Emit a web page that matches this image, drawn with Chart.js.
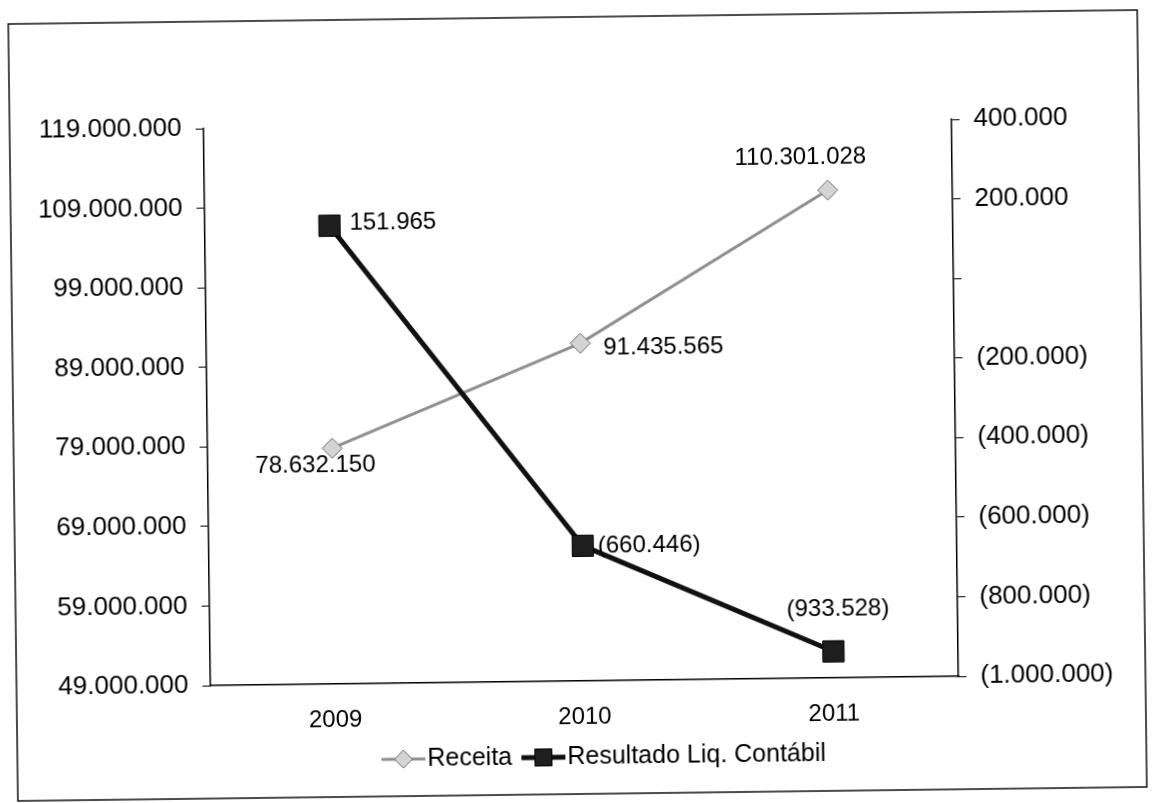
<!DOCTYPE html>
<html>
<head>
<meta charset="utf-8">
<script src="https://cdn.jsdelivr.net/npm/chart.js@4.4.1/dist/chart.umd.min.js"></script>
<style>
  html, body { margin: 0; padding: 0; background: #fff; overflow: hidden; }
  #wrap { width: 1153px; height: 803px; transform: rotate(-0.71deg); transform-origin: 50% 50%; }
</style>
</head>
<body>
<div id="wrap"><canvas id="chart" width="1153" height="803"></canvas></div>
<script>
// Values
const years = ["2009", "2010", "2011"];
const receita = [78632150, 91435565, 110301028];
const resultado = [151965, -660446, -933528];
const leftTickValues = [49000000, 59000000, 69000000, 79000000, 89000000, 99000000, 109000000, 119000000];
const rightTickValues = [-1000000, -800000, -600000, -400000, -200000, 0, 200000, 400000];

const FONT = "'Liberation Sans', Arial, sans-serif";

// 1.234.567 style, negatives in parentheses
function fmt(v) {
  const s = Math.abs(Math.round(v)).toString().replace(/\B(?=(\d{3})+(?!\d))/g, ".");
  return v < 0 ? "(" + s + ")" : s;
}

// where each value label sits relative to its point: [dx, dy, align]
const receitaLabelPos = [[-17, 17, "center"], [23, 5, "left"], [-27, -33, "center"]];
const resultadoLabelPos = [[20, -2, "left"], [15, 0, "left"], [5, -42, "center"]];

const frame = {
  id: "frame",
  beforeDraw(chart) {
    const ctx = chart.ctx;
    ctx.save();
    ctx.fillStyle = "#fff";
    ctx.fillRect(0, 0, chart.width, chart.height);
    ctx.strokeStyle = "#111";
    ctx.lineWidth = 1.5;
    ctx.strokeRect(13, 17, 1129, 777);
    ctx.restore();
  },
};

const valueLabels = {
  id: "valueLabels",
  afterDatasetsDraw(chart) {
    const ctx = chart.ctx;
    ctx.save();
    ctx.font = "24px " + FONT;
    ctx.fillStyle = "#000";
    ctx.textBaseline = "middle";
    chart.data.datasets.forEach((ds, i) => {
      const meta = chart.getDatasetMeta(i);
      const pos = ds.label === "Receita" ? receitaLabelPos : resultadoLabelPos;
      meta.data.forEach((pt, j) => {
        const [dx, dy, align] = pos[j];
        ctx.textAlign = align;
        ctx.fillText(fmt(ds.data[j]), pt.x + dx, pt.y + dy);
      });
    });
    ctx.restore();
  },
};

// Excel style legend: short line with the marker on it, then the name
const lineLegend = {
  id: "lineLegend",
  afterDraw(chart) {
    const ctx = chart.ctx;
    const y = 757;
    const items = [
      { ds: chart.data.datasets[0], x: 377 },
      { ds: chart.data.datasets[1], x: 517 },
    ];
    ctx.save();
    ctx.font = "25px " + FONT;
    ctx.textBaseline = "middle";
    ctx.textAlign = "left";
    items.forEach(({ ds, x }) => {
      ctx.strokeStyle = ds.borderColor;
      ctx.lineWidth = ds.borderWidth;
      ctx.beginPath();
      ctx.moveTo(x, y);
      ctx.lineTo(x + 44, y);
      ctx.stroke();
      ctx.fillStyle = ds.pointBackgroundColor;
      ctx.strokeStyle = ds.pointBorderColor;
      ctx.lineWidth = 1;
      Chart.helpers.drawPoint(ctx, {
        pointStyle: ds.pointStyle,
        radius: ds.pointStyle === "rect" ? 12 : 9,
        rotation: 0,
        borderWidth: 1,
      }, x + 22, y);
      ctx.fillStyle = "#000";
      ctx.fillText(ds.label, x + 46, y);
    });
    ctx.restore();
  },
};

new Chart(document.getElementById("chart"), {
  type: "line",
  data: {
    labels: years,
    datasets: [
      {
        label: "Receita",
        data: receita,
        yAxisID: "y",
        order: 1,
        borderColor: "#8f8f8f",
        borderWidth: 3,
        pointStyle: "rectRot",
        pointRadius: 10,
        pointBackgroundColor: "#d4d4d4",
        pointBorderColor: "#6e6e6e",
        pointBorderWidth: 1,
        tension: 0,
      },
      {
        label: "Resultado Liq. Contábil",
        data: resultado,
        yAxisID: "y1",
        order: 0,
        borderColor: "#111",
        borderWidth: 5,
        pointStyle: "rect",
        pointRadius: 15,
        pointBackgroundColor: "#1e1e1e",
        pointBorderColor: "#000",
        pointBorderWidth: 1,
        tension: 0,
      },
    ],
  },
  options: {
    responsive: false,
    animation: false,
    layout: { padding: { top: 124, left: 0, right: 0, bottom: 0 } },
    plugins: { legend: { display: false }, tooltip: { enabled: false } },
    scales: {
      x: {
        offset: true,
        grid: { display: false, drawTicks: false },
        border: { display: true, color: "#000", width: 1.5 },
        ticks: { color: "#000", padding: 22, font: { family: FONT, size: 24 } },
        afterFit(scale) { scale.height = 122; },
      },
      y: {
        position: "left",
        min: leftTickValues[0],
        max: leftTickValues[leftTickValues.length - 1],
        afterBuildTicks(scale) { scale.ticks = leftTickValues.map((v) => ({ value: v })); },
        grid: { drawOnChartArea: false, color: "#000", tickLength: 8 },
        border: { display: true, color: "#000", width: 1.5 },
        ticks: { color: "#000", padding: 14, font: { family: FONT, size: 26 }, callback: (v) => fmt(v) },
        afterFit(scale) { scale.width = 207; },
      },
      y1: {
        position: "right",
        min: rightTickValues[0],
        max: rightTickValues[rightTickValues.length - 1],
        afterBuildTicks(scale) { scale.ticks = rightTickValues.map((v) => ({ value: v })); },
        grid: { drawOnChartArea: false, color: "#000", tickLength: 8 },
        border: { display: true, color: "#000", width: 1.5 },
        ticks: { color: "#000", padding: 14, font: { family: FONT, size: 26 }, callback: (v) => (v === 0 ? "" : fmt(v)) },
        afterFit(scale) { scale.width = 198; },
      },
    },
  },
  plugins: [frame, valueLabels, lineLegend],
});
</script>
</body>
</html>
